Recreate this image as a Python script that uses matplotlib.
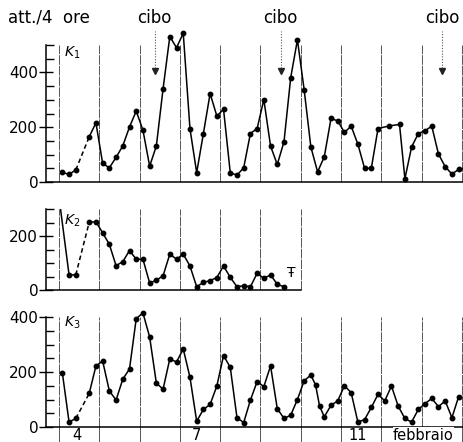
import matplotlib.pyplot as plt
import numpy as np

# activity counts per 4-hour bin; index i -> time 2 + 4*i hours after 4 Feb 00:00
K1_IDX = [0, 1, 2, 4, 5, 6, 7, 8, 9, 10, 11, 12, 13, 14, 15, 16, 17, 18, 19, 20,
          21, 22, 23, 24, 25, 26, 27, 28, 29, 30, 31, 32, 33, 34, 35, 36, 37, 38,
          39, 40, 41, 42, 43, 44, 45, 46, 47, 48.7, 50.2, 51, 52, 53, 54, 55, 56,
          57, 58, 59, 60]
K1_VAL = [35, 28, 44, 165, 216, 68, 52, 90, 132, 201, 259, 189, 58, 132, 341, 531,
          490, 543, 195, 34, 177, 323, 241, 265, 34, 25, 52, 177, 195, 301, 131, 64,
          147, 381, 519, 337, 128, 37, 92, 232, 223, 181, 204, 138, 50, 50, 195, 205,
          210, 12, 128, 177, 187, 204, 102, 56, 29, 46, 50]

K2_IDX = [-1, 1, 2, 4, 5, 6, 7, 8, 9, 10, 11, 12, 13, 14, 15, 16, 17, 18, 19, 20,
          21, 22, 23, 24, 25, 26, 27, 28, 29, 30, 31, 32, 33]
K2_VAL = [440, 56, 56, 251, 253, 212, 169, 90, 105, 146, 114, 114, 26, 36, 53, 133,
          114, 133, 89, 12, 28, 35, 46, 89, 47, 12, 16, 12, 62, 43, 56, 21, 12]

K3_IDX = [0, 1, 2, 4, 5, 6, 7, 8, 9, 10, 11, 12, 13, 14, 15, 16, 17, 18, 19, 20,
          21, 22, 23, 24, 25, 26, 27, 28, 29, 30, 31, 32, 33, 34, 35, 36, 37, 37.7,
          38.3, 39, 40, 41, 42, 43, 44, 45, 46, 47, 48, 49, 50, 51, 52, 53, 54, 55,
          56, 57, 58, 59]
K3_VAL = [197, 18, 31, 122, 222, 240, 131, 98, 174, 211, 394, 415, 327, 159, 138,
          248, 236, 284, 181, 21, 64, 82, 149, 260, 217, 34, 16, 98, 165, 147, 222,
          67, 31, 43, 100, 168, 189, 153, 76, 37, 79, 95, 150, 125, 18, 27, 71, 119,
          95, 149, 76, 31, 18, 64, 85, 104, 74, 95, 34, 110]

CIBO_HOURS = [57, 132, 228]
DAY_TICKS = [10.5, 82, 178]
DAY_LABELS = ["4", "7", "11"]
MONTH_POS = 217
MONTH_LABEL = "febbraio"

X0, X1 = -7.44, 241.2
LW = 1.1


def setup(ax, ymax, xend, name, ylab_pos):
    ax.set_xlim(X0, X1)
    ax.set_ylim(0, ymax)
    for s in ("top", "right"):
        ax.spines[s].set_visible(False)
    ax.spines["bottom"].set_bounds(X0, xend)
    ax.spines["left"].set_linewidth(1.1)
    ax.spines["bottom"].set_linewidth(1.1)
    ax.set_yticks(np.arange(0, ymax + 1, 200))
    ax.set_yticks(np.arange(0, ymax + 1, 50), minor=True)
    ax.tick_params(axis="y", which="major", direction="inout", length=10,
                   width=1.0, labelsize=11, pad=1)
    ax.tick_params(axis="y", which="minor", direction="in", length=5.5, width=1.0)
    ax.set_xticks([])
    for d in np.arange(0, xend + 1, 24):
        ax.axvline(d, color="#555555", lw=0.7, dashes=(10, 1), zorder=1)
    ax.text(0.042, ylab_pos, name, transform=ax.transAxes, fontsize=10,
            ha="left", va="center")


def draw(ax, idx, vals, clip):
    idx = np.array(idx, dtype=float)
    vals = np.array(vals, dtype=float)
    t = 2 + 4 * idx
    pre = idx <= 2
    post = idx >= 4
    ax.plot(t[pre], vals[pre], "-", color="k", lw=LW, clip_on=clip, zorder=3)
    ax.plot(t[post], vals[post], "-", color="k", lw=LW, clip_on=clip, zorder=3)
    ax.plot([t[pre][-1], t[post][0]], [vals[pre][-1], vals[post][0]],
            color="k", lw=LW, dashes=(3, 2), clip_on=clip, zorder=3)
    ax.plot(t, vals, "o", color="k", ms=3.2, clip_on=clip, zorder=4)


fig = plt.figure(figsize=(4.64, 4.42), dpi=100)
ax1 = fig.add_axes([0.1002, 0.5882, 0.8998, 0.3100])
ax2 = fig.add_axes([0.1002, 0.3439, 0.8998, 0.1832])
ax3 = fig.add_axes([0.1002, 0.0339, 0.8998, 0.2489])

setup(ax1, 500, X1, "$K_1$", 0.94)
setup(ax2, 300, 144, "$K_2$", 0.86)
setup(ax3, 400, X1, "$K_3$", 0.945)

draw(ax1, K1_IDX, K1_VAL, False)
draw(ax2, K2_IDX, K2_VAL, True)
draw(ax3, K3_IDX, K3_VAL, False)

# day lines in the bottom panel run down past the axis
for d in np.arange(0, X1, 24):
    ax3.axvline(d, ymin=-0.14, ymax=0, color="#555555", lw=0.7, clip_on=False,
                zorder=1)

ax3.set_xticks(DAY_TICKS)
ax3.set_xticklabels(DAY_LABELS, fontsize=10.5)
ax3.tick_params(axis="x", length=0, pad=0.5)
ax3.text(MONTH_POS, -0.008, MONTH_LABEL, transform=ax3.get_xaxis_transform(),
         fontsize=10.5, ha="center", va="top", zorder=6, clip_on=False,
         bbox=dict(facecolor="white", edgecolor="none", pad=0.3))

# feeding times
for h in CIBO_HOURS:
    ax1.plot([h, h], [415, 550], color="#555555", lw=0.8, ls=(0, (1, 1.5)),
             clip_on=False)
    ax1.plot([h], [405], marker="v", color="#222222", ms=4.5, clip_on=False)
    ax1.text(h, 598, "cibo", fontsize=12, ha="center", va="center")

ax2.text(138.6, 63, "Ŧ", fontsize=10, ha="center", va="center")

fig.text(8 / 464, 1 - 18 / 442, "att./4  ore", fontsize=12, ha="left", va="center")

fig.savefig("out.png", dpi=100)
